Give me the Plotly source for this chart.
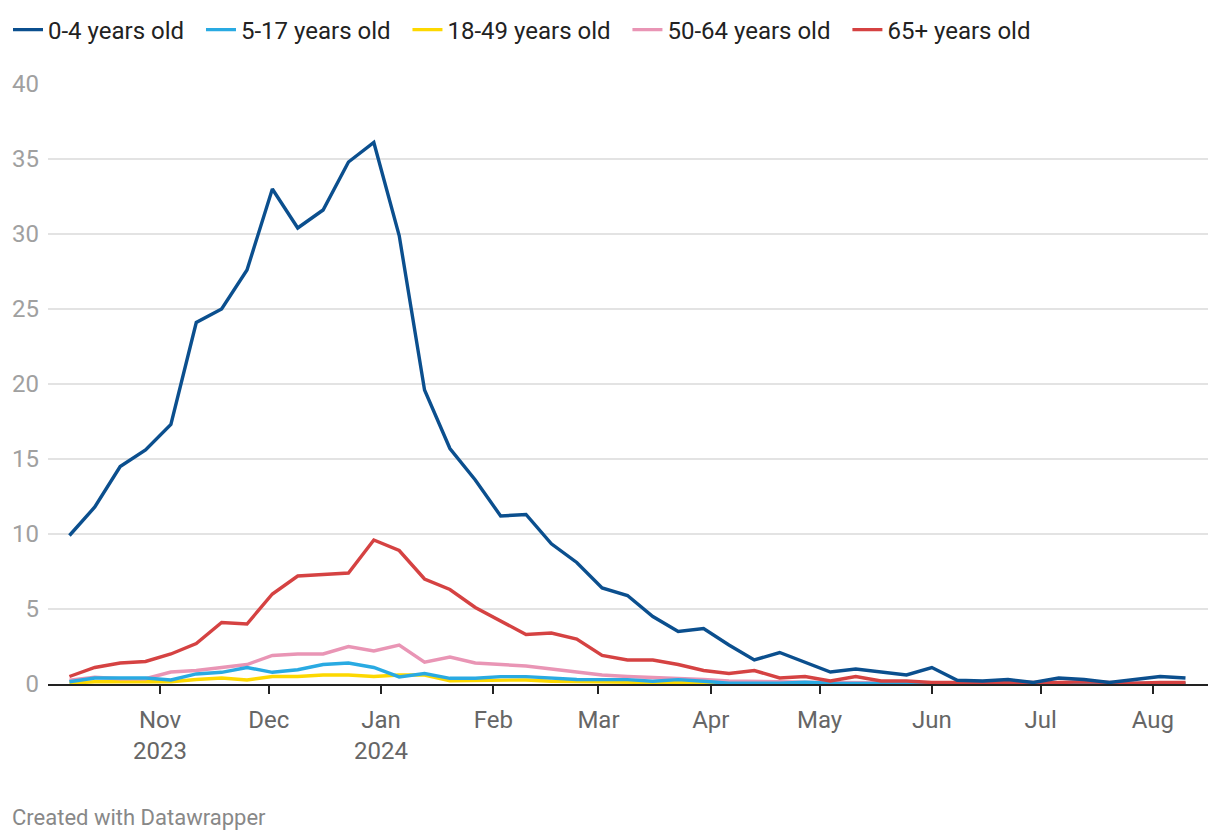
import plotly.graph_objects as go

dates = [
    "2023-10-07", "2023-10-14", "2023-10-21", "2023-10-28", "2023-11-04", "2023-11-11",
    "2023-11-18", "2023-11-25", "2023-12-02", "2023-12-09", "2023-12-16", "2023-12-23",
    "2023-12-30", "2024-01-06", "2024-01-13", "2024-01-20", "2024-01-27", "2024-02-03",
    "2024-02-10", "2024-02-17", "2024-02-24", "2024-03-02", "2024-03-09", "2024-03-16",
    "2024-03-23", "2024-03-30", "2024-04-06", "2024-04-13", "2024-04-20", "2024-04-27",
    "2024-05-04", "2024-05-11", "2024-05-18", "2024-05-25", "2024-06-01", "2024-06-08",
    "2024-06-15", "2024-06-22", "2024-06-29", "2024-07-06", "2024-07-13", "2024-07-20",
    "2024-07-27", "2024-08-03", "2024-08-10",
]

age_0_4 = [
    9.9, 11.8, 14.5, 15.6, 17.3, 24.1, 25.0, 27.6, 33.0, 30.4, 31.6, 34.8,
    36.1, 29.9, 19.6, 15.7, 13.6, 11.2, 11.3, 9.35, 8.1, 6.4, 5.9, 4.5,
    3.5, 3.7, 2.6, 1.6, 2.1, 1.45, 0.8, 1.0, 0.8, 0.6, 1.1, 0.25,
    0.2, 0.3, 0.1, 0.4, 0.3, 0.1, 0.3, 0.5, 0.4,
]
age_5_17 = [
    0.15, 0.4, 0.4, 0.4, 0.27, 0.67, 0.78, 1.1, 0.78, 0.95, 1.3, 1.4,
    1.1, 0.47, 0.7, 0.38, 0.38, 0.49, 0.49, 0.4, 0.3, 0.29, 0.29, 0.18,
    0.29, 0.18, 0.05, 0.05, 0.05, 0.12, 0.05, 0.04, 0.03, 0.03, 0.03, 0.03,
    0.03, 0.03, 0.03, 0.03, 0.03, 0.03, 0.03, 0.03, 0.03,
]
age_18_49 = [
    0.05, 0.15, 0.15, 0.15, 0.15, 0.3, 0.4, 0.27, 0.5, 0.5, 0.6, 0.6,
    0.5, 0.6, 0.6, 0.22, 0.22, 0.27, 0.27, 0.18, 0.15, 0.12, 0.1, 0.1,
    0.1, 0.1, 0.02, 0.02, 0.02, 0.02, 0.02, 0.02, 0.02, 0.02, 0.02, 0.02,
    0.02, 0.02, 0.02, 0.02, 0.02, 0.02, 0.02, 0.02, 0.02,
]
age_50_64 = [
    0.25, 0.45, 0.35, 0.35, 0.8, 0.9, 1.1, 1.3, 1.9, 2.0, 2.0, 2.5,
    2.2, 2.6, 1.45, 1.8, 1.4, 1.3, 1.2, 1.0, 0.8, 0.6, 0.5, 0.45,
    0.4, 0.3, 0.2, 0.15, 0.15, 0.12, 0.1, 0.08, 0.06, 0.05, 0.05, 0.05,
    0.05, 0.05, 0.05, 0.05, 0.05, 0.05, 0.05, 0.05, 0.05,
]
age_65_plus = [
    0.5, 1.1, 1.4, 1.5, 2.0, 2.7, 4.1, 4.0, 6.0, 7.2, 7.3, 7.4,
    9.6, 8.9, 7.0, 6.3, 5.1, 4.2, 3.3, 3.4, 3.0, 1.9, 1.6, 1.6,
    1.3, 0.9, 0.7, 0.9, 0.4, 0.5, 0.2, 0.5, 0.2, 0.2, 0.1, 0.1,
    0.1, 0.1, 0.05, 0.1, 0.15, 0.1, 0.05, 0.1, 0.1,
]

tick_vals = ["2023-11-01", "2023-12-01", "2024-01-01", "2024-02-01", "2024-03-01",
             "2024-04-01", "2024-05-01", "2024-06-01", "2024-07-01", "2024-08-01"]
tick_text = ["Nov<br>2023", "Dec", "Jan<br>2024", "Feb", "Mar",
             "Apr", "May", "Jun", "Jul", "Aug"]

# (name, values, colour, legend rank); drawn in an order that keeps 0-4 on top
series = [
    ("18-49 years old", age_18_49, "#fdd800", 3),
    ("50-64 years old", age_50_64, "#e995b5", 4),
    ("5-17 years old", age_5_17, "#29aae2", 2),
    ("65+ years old", age_65_plus, "#d54242", 5),
    ("0-4 years old", age_0_4, "#0b4f8e", 1),
]

NB = "\u00a0\u00a0"

fig = go.Figure()
for name, vals, col, rank in series:
    fig.add_trace(go.Scatter(
        x=dates, y=vals, name=name + NB, mode="lines",
        line=dict(color=col, width=3.4),
        legendrank=rank,
    ))

fig.update_layout(
    width=1220, height=840,
    margin=dict(l=40, r=20, t=76, b=164, autoexpand=False),
    paper_bgcolor="white", plot_bgcolor="white",
    font=dict(family="Roboto, sans-serif", color="#333333", size=24),
    showlegend=True,
    legend=dict(
        orientation="h", xref="container", yref="container",
        x=0.0, xanchor="left", y=1 - 22 / 840, yanchor="middle",
        font=dict(size=24, color="#222222"),
        traceorder="normal", itemwidth=30,
    ),
    xaxis=dict(
        type="date", automargin=False,
        range=["2023-10-01 02:00", "2024-08-16 05:00"],
        tickmode="array", tickvals=tick_vals, ticktext=tick_text,
        ticks="outside", ticklen=8, tickwidth=2, tickcolor="#222222",
        showline=True, linecolor="#222222", linewidth=2,
        showgrid=False, zeroline=False,
        tickfont=dict(size=24, color="#666666"),
        ticklabelstandoff=5,
    ),
    yaxis=dict(
        range=[0, 40], dtick=5, tick0=0, automargin=False,
        showgrid=True, gridcolor="#e3e3e3", gridwidth=1.5,
        zeroline=False, showline=False, ticks="",
        tickfont=dict(size=24, color="#a0a0a0"),
        ticklabelstandoff=8,
    ),
    annotations=[dict(
        text="Created with Datawrapper", xref="paper", yref="paper",
        x=(2 - 40) / 1160, y=(676 - 809) / 600, xanchor="left", yanchor="middle",
        showarrow=False,
        font=dict(size=22, color="#888888"),
    )],
)

fig.write_html("out.html")
